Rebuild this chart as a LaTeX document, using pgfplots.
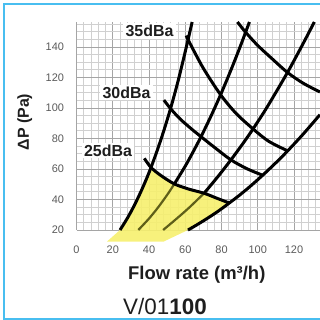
\documentclass[border=0pt]{standalone}
\usepackage{fontspec}
\setmainfont{Liberation Sans}
\usepackage{pgfplots}
\pgfplotsset{compat=1.18}
\definecolor{frameblue}{RGB}{72,190,240}
\definecolor{zoneyellow}{RGB}{246,240,110}
\definecolor{olivecurve}{RGB}{95,95,25}
\definecolor{ticklab}{RGB}{90,90,90}
\definecolor{darktext}{RGB}{30,30,30}
\tikzset{
  dba/.style={fill=white, inner xsep=2.5bp, inner ysep=2bp, font=\fontsize{16}{16}\selectfont\bfseries, text=darktext},
  curve/.style={black, line width=3bp, smooth},
}
\begin{document}
\begin{tikzpicture}
\useasboundingbox (0,0) rectangle (320bp,320bp);
\begin{axis}[
  at={(76.5bp,90bp)}, anchor=south west,
  scale only axis, width=243.5bp, height=208bp,
  xmin=0, xmax=134.34, ymin=20, ymax=156.4,
  clip=false,
  xtick={0,20,...,120}, ytick={20,40,...,140},
  minor xtick={4,8,...,132}, minor ytick={25,30,...,155},
  grid=both,
  major grid style={draw={rgb,255:red,165;green,165;blue,165}, line width=0.9bp},
  minor grid style={draw={rgb,255:red,208;green,208;blue,208}, line width=0.8bp},
  axis line style={draw=none},
  major tick length=0pt, minor tick length=0pt,
  /pgf/number format/assume math mode=true,
  tick label style={font=\fontsize{11}{13}\selectfont, text=ticklab},
  xticklabel style={yshift=-12bp},
  yticklabel style={xshift=-9bp},
  xlabel={\textbf{Flow rate (m³/h)}},
  ylabel={\textbf{ΔP (Pa)}},
  xlabel style={at={(axis description cs:0.494,-0.216)}, anchor=center, font=\fontsize{18.5}{20}\selectfont, text=darktext},
  ylabel style={at={(axis description cs:-0.213,0.519)}, anchor=center, font=\fontsize{16}{18}\selectfont, text=darktext},
]
% yellow operating zone
\addplot[fill=zoneyellow, draw=none, fill opacity=0.9] coordinates {(16.7,12.3) (24,20) (28,27.6) (32,36.4) (36,46.4) (40,57.6) (41.1,61) (46.6,55.7) (54,50.2) (62,46.8) (70.4,44.1) (77.5,40.8) (84.3,37.7) (78,32.2) (72,27.5) (66,23.1) (61.5,20) (47.9,12.3)} -- cycle;
% system curves inside zone
\addplot[olivecurve, line width=2.2bp, smooth] coordinates {(34.1,20) (40,27.5) (45,34.8) (50,43) (54,50.2)};
\addplot[olivecurve, line width=2.2bp, smooth] coordinates {(47.8,20) (55,27.2) (62,34.5) (70.4,44.1)};
% system curves
\addplot[curve] coordinates {(24,20) (28,27.6) (32,36.4) (36,46.4) (40,57.6) (44,70.4) (48,84.5) (52,100.1) (56,117.5) (60,137) (63.8,156.4)};
\addplot[curve] coordinates {(54,50.2) (60,61.9) (64.5,71.6) (68.7,81.2) (74,94.2) (79.5,108.7) (85,124.3) (90,139.3) (93.3,149.7) (95.4,156.4)};
\addplot[curve] coordinates {(70.4,44.1) (78,55.0) (85.2,66.0) (92,77.0) (97.4,86.3) (105,100.3) (116.4,123.3) (125,142.2) (131.2,156.4)};
\addplot[curve] coordinates {(61.5,20) (66,23.1) (72,27.5) (78,32.2) (84.3,37.7) (90,42.9) (96,48.8) (102.7,55.9) (110,64.1) (116.5,71.9) (125,82.8) (134.3,95.6)};
% iso-noise curves
\addplot[curve] coordinates {(37.4,67) (41.1,61) (46.6,55.7) (54,50.2) (62,46.8) (70.4,44.1) (77.5,40.8) (84.3,37.7)};
\addplot[curve] coordinates {(48.2,105.2) (51.9,99.6) (57,93) (63.2,86.5) (68.7,81.2) (76,74.3) (85.2,66) (94,60.2) (102.7,55.9)};
\addplot[curve] coordinates {(60.5,147.5) (62.6,142.4) (70,126) (79.5,108.7) (88,96.5) (97.4,86.3) (106,78.2) (116.5,71.9)};
\addplot[curve] coordinates {(88.8,156.4) (93.3,149.7) (100,141) (108,132.2) (116.4,123.3) (125,116.3) (134.3,110.5)};
% labels
\node[dba] at (axis cs:40.3,150.5) {35dBa};
\node[dba] at (axis cs:27.6,110.2) {30dBa};
\node[dba] at (axis cs:17.4,72.1) {25dBa};
\node[font=\fontsize{22.5}{24}\selectfont, anchor=center, text=darktext] at (rel axis cs:0.3634,-0.369) {V/01\textbf{100}};
\end{axis}
\draw[frameblue, line width=2bp] (322bp,315.7bp) -- (4.3bp,315.7bp) -- (4.3bp,1.3bp) -- (322bp,1.3bp);
\end{tikzpicture}
\end{document}
